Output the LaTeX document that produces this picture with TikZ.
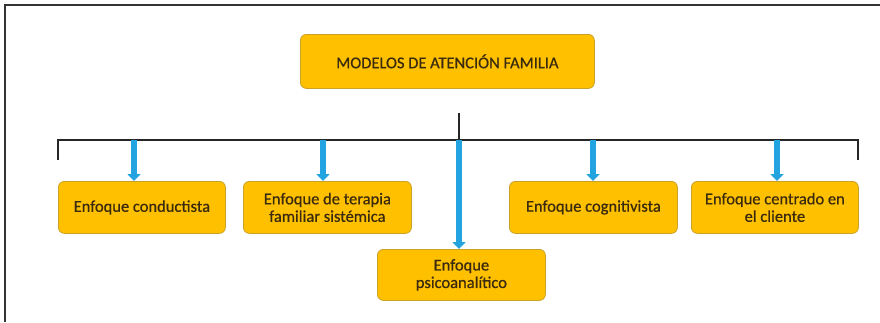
\documentclass[tikz,border=0pt]{standalone}
\usepackage{fontspec}
\setmainfont{Carlito}[FakeBold=0.6]
\newfontfamily\cardfont{Carlito}[FakeBold=0.6]
\usetikzlibrary{arrows.meta}
\definecolor{boxfill}{HTML}{FFC000}
\definecolor{boxline}{HTML}{C9A227}
\definecolor{arrowblue}{HTML}{23A3E0}
\definecolor{txt}{HTML}{3A2A0E}
\tikzset{
  card/.style={draw=boxline, line width=0.8pt, fill=boxfill, rounded corners=6pt,
    text=txt, align=center, font=\cardfont\fontsize{16.5}{17.5}\selectfont, anchor=north west,
    inner sep=0pt},
  bluearrow/.style={draw=arrowblue, line width=5.5pt,
    -{Triangle[width=13pt,length=7pt]}},
  bracket/.style={draw=black!85, line width=1.4pt},
  frame/.style={draw=black!80, line width=2pt}
}
\begin{document}
\begin{tikzpicture}[x=1pt,y=-1pt]
\useasboundingbox (0,0) rectangle (880,322);
\fill[white] (0,0) rectangle (880,322);
% frame (top and left)
\draw[frame] (5,322) -- (5,5) -- (880,5);
% top box
\node[card, minimum width=294pt, minimum height=54pt] (top) at (300,34) {MODELOS DE ATENCIÓN FAMILIA};
% children
\node[card, minimum width=167pt, minimum height=52pt] (c1) at (58,181) {Enfoque conductista};
\node[card, minimum width=168pt, minimum height=52pt] (c2) at (243,181) {Enfoque de terapia\\familiar sistémica};
\node[card, minimum width=168pt, minimum height=51pt] (c3) at (377,249) {Enfoque\\psicoanalítico};
\node[card, minimum width=168pt, minimum height=52pt] (c4) at (509,181) {Enfoque cognitivista};
\node[card, minimum width=167pt, minimum height=52pt] (c5) at (691,181) {Enfoque centrado en\\el cliente};
% bracket
\coordinate (stem) at (459,113);
\coordinate (bl) at (58,140);
\coordinate (br) at (858,140);
\coordinate (blt) at (58,160);
\coordinate (brt) at (858,160);
\draw[bracket] (stem) -- (459,140);
\draw[bracket] (blt) -- (bl) -- (br) -- (brt);
% arrows
\coordinate (a1) at (134,140);
\coordinate (a2) at (323,140);
\coordinate (a3) at (459,140);
\coordinate (a4) at (593,140);
\coordinate (a5) at (777,140);
\draw[bluearrow] (a1) -- (a1 |- c1.north);
\draw[bluearrow] (a2) -- (a2 |- c2.north);
\draw[bluearrow] (a3) -- (a3 |- c3.north);
\draw[bluearrow] (a4) -- (a4 |- c4.north);
\draw[bluearrow] (a5) -- (a5 |- c5.north);
\end{tikzpicture}
\end{document}
